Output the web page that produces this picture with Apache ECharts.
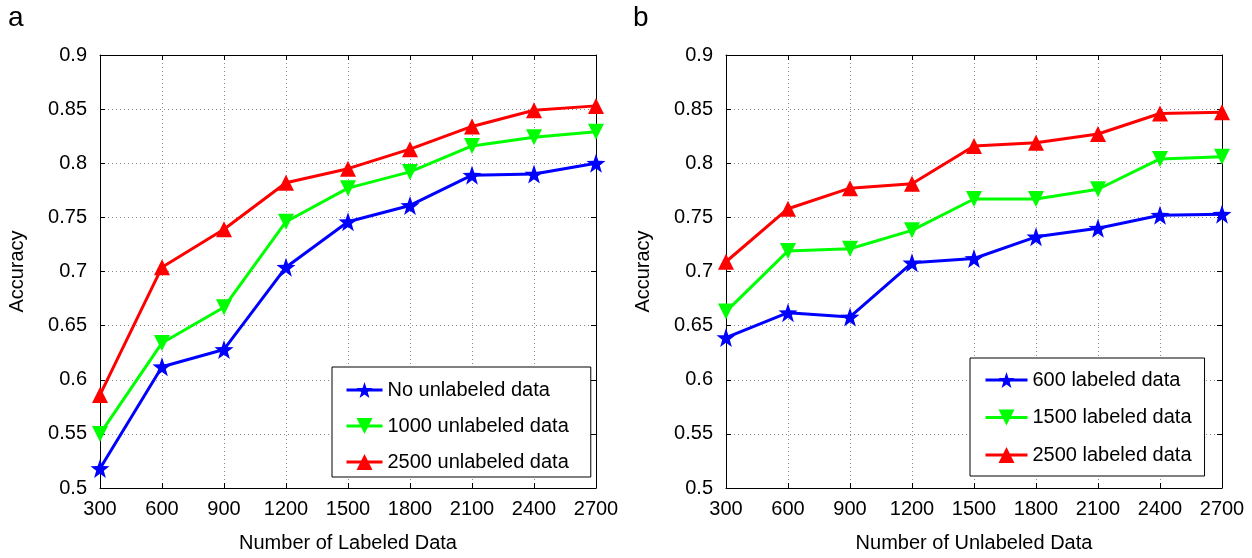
<!DOCTYPE html>
<html>
<head>
<meta charset="utf-8">
<script src="https://cdn.jsdelivr.net/npm/echarts@6/dist/echarts.min.js"></script>
<style>
html,body{margin:0;padding:0;background:#fff;}
#c{width:1252px;height:558px;}
</style>
</head>
<body>
<div id="c"></div>
<script>
// ---- data ----
const xValues = [300, 600, 900, 1200, 1500, 1800, 2100, 2400, 2700];
const yTicks = [0.5, 0.55, 0.6, 0.65, 0.7, 0.75, 0.8, 0.85, 0.9];

// Panel a: x = number of labeled data
const aNames = ['No unlabeled data', '1000 unlabeled data', '2500 unlabeled data'];
const aNoUnlabeled = [0.518, 0.612, 0.628, 0.704, 0.746, 0.761, 0.789, 0.790, 0.800];
const a1000Unlabeled = [0.550, 0.634, 0.667, 0.746, 0.777, 0.792, 0.816, 0.824, 0.829];
const a2500Unlabeled = [0.586, 0.704, 0.739, 0.782, 0.795, 0.813, 0.834, 0.849, 0.853];

// Panel b: x = number of unlabeled data
const bNames = ['600 labeled data', '1500 labeled data', '2500 labeled data'];
const b600Labeled = [0.639, 0.662, 0.658, 0.708, 0.712, 0.732, 0.740, 0.752, 0.753];
const b1500Labeled = [0.663, 0.719, 0.721, 0.738, 0.767, 0.767, 0.776, 0.804, 0.806];
const b2500Labeled = [0.709, 0.758, 0.777, 0.781, 0.816, 0.819, 0.827, 0.846, 0.847];

const panelLetters = ['a', 'b'];
const xTitles = ['Number of Labeled Data', 'Number of Unlabeled Data'];
const yTitle = 'Accuracy';

// ---- styling ----
const FONT = 'Liberation Sans, Arial, sans-serif';
const colors = ['#0000ff', '#00ff00', '#ff0000'];
const STAR = 'path://M0,-10 L2.35,-3.24 L9.51,-3.09 L3.8,1.24 L5.88,8.09 L0,4 L-5.88,8.09 L-3.8,1.24 L-9.51,-3.09 L-2.35,-3.24 Z';
const symbols = [
  {symbol: STAR, symbolSize: 19, symbolRotate: 0},
  {symbol: 'triangle', symbolSize: 16, symbolRotate: 180},
  {symbol: 'triangle', symbolSize: 16, symbolRotate: 0}
];

const grids = [
  {left: 100, top: 55, width: 496, height: 433},
  {left: 726, top: 55, width: 496, height: 433}
];

function pairs(vals) { return xValues.map((x, i) => [x, vals[i]]); }

const xAxes = [], yAxes = [], series = [];
grids.forEach((g, gi) => {
  xAxes.push({
    type: 'value', gridIndex: gi, min: 300, max: 2700, interval: 300,
    name: xTitles[gi], nameLocation: 'middle', nameGap: 45,
    nameTextStyle: {fontFamily: FONT, fontSize: 20, color: '#000'},
    axisLine: {show: true, onZero: false, lineStyle: {color: '#000', width: 1}},
    axisTick: {show: true, inside: true, length: 5, lineStyle: {color: '#000'}},
    axisLabel: {fontFamily: FONT, fontSize: 20, color: '#000', margin: 11,
      formatter: v => String(Math.round(v))},
    splitLine: {show: true, lineStyle: {color: '#8a8a8a', type: [1, 3], width: 1}}
  });
  xAxes.push({
    type: 'value', gridIndex: gi, position: 'top', min: 300, max: 2700, interval: 300,
    axisLine: {show: true, onZero: false, lineStyle: {color: '#000', width: 1}},
    axisTick: {show: true, inside: true, length: 5, lineStyle: {color: '#000'}},
    axisLabel: {show: false}, splitLine: {show: false}
  });
  yAxes.push({
    type: 'value', gridIndex: gi, min: 0.5, max: 0.9, interval: 0.05,
    name: yTitle, nameLocation: 'middle', nameGap: 73,
    nameTextStyle: {fontFamily: FONT, fontSize: 20, color: '#000'},
    axisLine: {show: true, onZero: false, lineStyle: {color: '#000', width: 1}},
    axisTick: {show: true, inside: true, length: 5, lineStyle: {color: '#000'}},
    axisLabel: {fontFamily: FONT, fontSize: 20, color: '#000', margin: 13,
      formatter: v => String(+v.toFixed(2))},
    splitLine: {show: true, lineStyle: {color: '#8a8a8a', type: [1, 3], width: 1}}
  });
  yAxes.push({
    type: 'value', gridIndex: gi, position: 'right', min: 0.5, max: 0.9, interval: 0.05,
    axisLine: {show: true, onZero: false, lineStyle: {color: '#000', width: 1}},
    axisTick: {show: true, inside: true, length: 5, lineStyle: {color: '#000'}},
    axisLabel: {show: false}, splitLine: {show: false}
  });
});

const panelData = [
  [aNoUnlabeled, a1000Unlabeled, a2500Unlabeled],
  [b600Labeled, b1500Labeled, b2500Labeled]
];
const panelNames = [aNames, bNames];

panelData.forEach((sets, gi) => {
  sets.forEach((vals, si) => {
    series.push({
      type: 'line', name: panelNames[gi][si],
      xAxisIndex: gi * 2, yAxisIndex: gi * 2,
      data: pairs(vals),
      clip: false,
      symbol: symbols[si].symbol, symbolSize: symbols[si].symbolSize,
      symbolRotate: symbols[si].symbolRotate,
      lineStyle: {color: colors[si], width: 3},
      itemStyle: {color: colors[si], borderWidth: 0},
      emphasis: {disabled: true},
      animation: false
    });
  });
});

const legendBase = {
  orient: 'vertical',
  textStyle: {fontFamily: FONT, fontSize: 20, color: '#000'},
  borderColor: '#000', borderWidth: 1, backgroundColor: '#fff',
  itemHeight: 20, selectedMode: false,
  lineStyle: {width: 3}
};

const option = {
  animation: false,
  backgroundColor: '#fff',
  grid: grids,
  xAxis: xAxes,
  yAxis: yAxes,
  series: series,
  legend: [
    Object.assign({}, legendBase, {
      data: aNames, left: 332, top: 367, itemWidth: 36, itemGap: 16,
      padding: [13, 22, 5, 13]
    }),
    Object.assign({}, legendBase, {
      data: bNames, left: 970, top: 358, itemWidth: 42, itemGap: 17.5,
      padding: [12, 13, 11, 14]
    })
  ],
  graphic: [
    {type: 'text', left: 8, top: 4, style: {text: panelLetters[0], font: '28px ' + FONT, fill: '#000'}},
    {type: 'text', left: 633, top: 4, style: {text: panelLetters[1], font: '28px ' + FONT, fill: '#000'}}
  ]
};

const chart = echarts.init(document.getElementById('c'), null, {renderer: 'canvas'});
chart.setOption(option);
</script>
</body>
</html>
